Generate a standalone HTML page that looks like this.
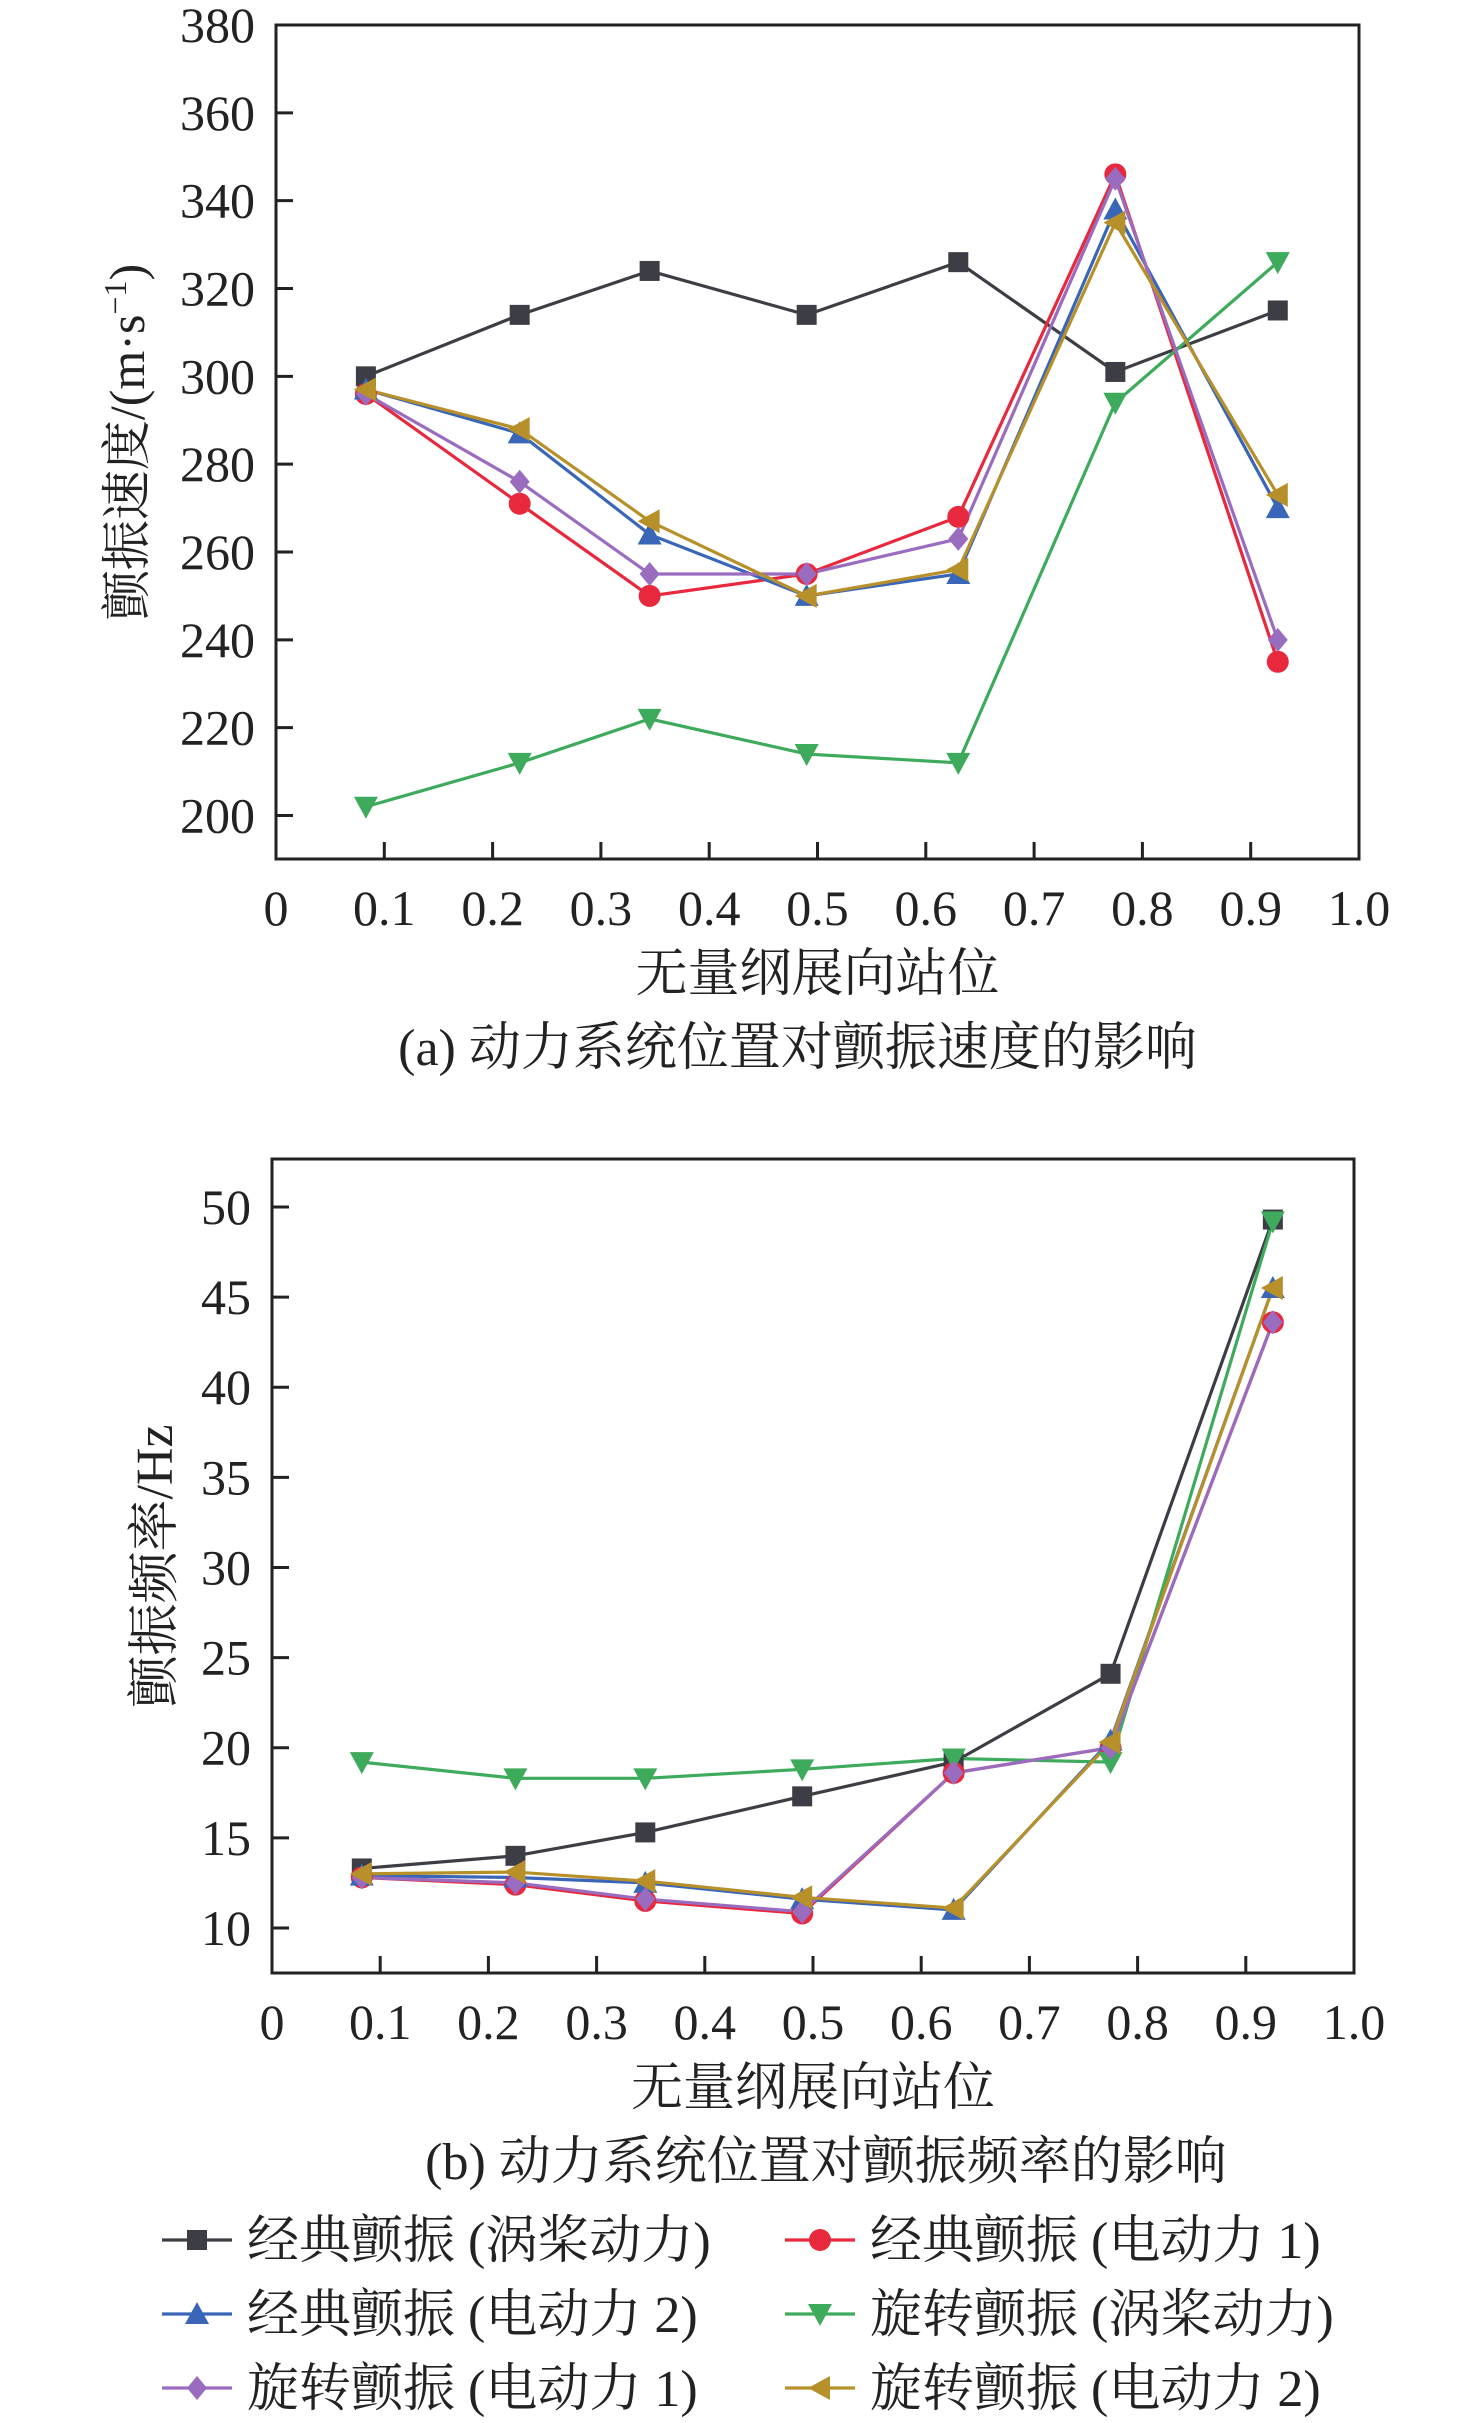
<!DOCTYPE html>
<html><head><meta charset="utf-8">
<style>
html,body{margin:0;padding:0;background:#fff;}
svg{display:block;}
text{font-family:"Liberation Serif","Noto Serif CJK SC","Noto Sans CJK SC",serif;fill:#222;}
</style></head>
<body>
<svg id="chart" width="1476" height="2423" viewBox="0 0 1476 2423" xmlns="http://www.w3.org/2000/svg"></svg>
<script>
const xStations = [0.083, 0.225, 0.345, 0.49, 0.63, 0.775, 0.925];
const seriesNames = ["经典颤振 (涡桨动力)","经典颤振 (电动力 1)","经典颤振 (电动力 2)","旋转颤振 (涡桨动力)","旋转颤振 (电动力 1)","旋转颤振 (电动力 2)"];
const speedClassicTurbo = [300,314,324,314,326,301,315];
const speedClassicE1 = [296,271,250,255,268,346,235];
const speedClassicE2 = [297,287,264,250,255,338,270];
const speedRotTurbo = [202,212,222,214,212,294,326];
const speedRotE1 = [296,276,255,255,263,345,240];
const speedRotE2 = [297,288,267,250,256,335,273];
const freqClassicTurbo = [13.3,14.0,15.3,17.3,19.2,24.1,49.3];
const freqClassicE1 = [12.8,12.4,11.5,10.8,18.6,20.0,43.6];
const freqClassicE2 = [12.9,12.8,12.5,11.6,11.0,20.4,45.5];
const freqRotTurbo = [19.2,18.3,18.3,18.8,19.4,19.2,49.2];
const freqRotE1 = [12.8,12.5,11.6,10.9,18.6,20.0,43.6];
const freqRotE2 = [13.0,13.1,12.6,11.7,11.1,20.3,45.5];
const xTicks = ["0","0.1","0.2","0.3","0.4","0.5","0.6","0.7","0.8","0.9","1.0"];
const speedTicks = [200,220,240,260,280,300,320,340,360,380];
const freqTicks = [10,15,20,25,30,35,40,45,50];

const colors = ["#3d3d45","#e8283c","#3a66b8","#3daa5c","#9a6cc0","#b8902a"];
const markers = ["square","circle","tri-up","tri-down","diamond","tri-left"];
const NS = "http://www.w3.org/2000/svg";
const svg = document.getElementById('chart');
function mk(tag, attrs, parent){const e=document.createElementNS(NS,tag);for(const k in attrs)e.setAttribute(k,attrs[k]);(parent||svg).appendChild(e);return e;}

function marker(g, type, x, y, c){
  const s=11;let e;
  if(type==="square") e=mk('rect',{x:x-s+1,y:y-s+1,width:2*s-2,height:2*s-2,fill:c},g);
  else if(type==="circle") e=mk('circle',{cx:x,cy:y,r:s,fill:c},g);
  else { let p;
    if(type==="tri-up") p=[[x,y-s-1],[x+s+1,y+s-1],[x-s-1,y+s-1]];
    else if(type==="tri-down") p=[[x,y+s+1],[x+s+1,y-s+1],[x-s-1,y-s+1]];
    else if(type==="tri-left") p=[[x-s-1,y],[x+s-1,y-s-1],[x+s-1,y+s+1]];
    else p=[[x,y-s-1],[x+s-1,y],[x,y+s+1],[x-s+1,y]];
    e=mk('polygon',{points:p.map(q=>q.join(',')).join(' '),fill:c},g);
  }
  
  
}

function drawChart(cfg){
  const {L,R,T,B,yMin,yMax,ticks,series,yTitle,yTitleX,yTitleSize,caption,capDx,id}=cfg;
  const g=mk('g',{});
  
  
  const sx=v=>L+(R-L)*v;
  const sy=v=>B-(B-T)*(v-yMin)/(yMax-yMin);
  const frame=mk('rect',{x:L,y:T,width:R-L,height:B-T,fill:'none',stroke:'#222','stroke-width':3},g);
  
  
  xTicks.forEach((t,i)=>{
    const x=sx(i/10);
    if(i>0&&i<10) mk('line',{x1:x,y1:B,x2:x,y2:B-17,stroke:'#222','stroke-width':3},g);
    const tx=mk('text',{x:x,y:B+66,'font-size':50,'text-anchor':'middle'},g);
    tx.textContent=t;
    
    
  });
  ticks.forEach(t=>{
    const y=sy(t);
    mk('line',{x1:L,y1:y,x2:L+17,y2:y,stroke:'#222','stroke-width':3},g);
    const tx=mk('text',{x:L-21,y:y+17,'font-size':50,'text-anchor':'end'},g);
    tx.textContent=t;
    
    
  });
  const xt=mk('text',{x:(L+R)/2,y:B+132,'font-size':52,'text-anchor':'middle'},g);
  xt.textContent="无量纲展向站位";
  
  
  const yt=mk('text',{x:0,y:0,'font-size':yTitleSize,'text-anchor':'middle',transform:`translate(${yTitleX},${(T+B)/2}) rotate(-90)`},g);
  yt.innerHTML=yTitle;
  
  
  const cp=mk('text',{x:(L+R)/2+capDx,y:B+206,'font-size':52,'text-anchor':'middle'},g);
  cp.textContent=caption;
  
  
  series.forEach((vals,si)=>{
    const pts=vals.map((v,i)=>sx(xStations[i])+','+sy(v)).join(' ');
    const pl=mk('polyline',{points:pts,fill:'none',stroke:colors[si],'stroke-width':3.2},g);
    
    
  });
  series.forEach((vals,si)=>{
    vals.forEach((v,i)=>marker(g,markers[si],sx(xStations[i]),sy(v),colors[si]));
  });
}

drawChart({id:'speed-chart',L:276,R:1359,T:25,B:859,yMin:190.1,yMax:380,ticks:speedTicks,
  series:[speedClassicTurbo,speedClassicE1,speedClassicE2,speedRotTurbo,speedRotE1,speedRotE2],
  yTitle:'颤振速度/(m·s<tspan baseline-shift="super" font-size="32">−1</tspan>)',yTitleX:144,yTitleSize:50,capDx:-20,
  caption:"(a) 动力系统位置对颤振速度的影响"});
drawChart({id:'frequency-chart',L:272,R:1354,T:1159,B:1973,yMin:7.5,yMax:52.66,ticks:freqTicks,
  series:[freqClassicTurbo,freqClassicE1,freqClassicE2,freqRotTurbo,freqRotE1,freqRotE2],
  yTitle:'颤振频率/Hz',yTitleX:172,yTitleSize:52,capDx:13,
  caption:"(b) 动力系统位置对颤振频率的影响"});

// legend
const lg=mk('g',{});


seriesNames.forEach((n,i)=>{
  const col=i%2,row=Math.floor(i/2);
  const x0=col?785:162, y=2240+row*74;
  const e=mk('g',{},lg);
  
  
  mk('line',{x1:x0,y1:y,x2:x0+70,y2:y,stroke:colors[i],'stroke-width':3.2},e);
  marker(e,markers[i],x0+35,y,colors[i]);
  const t=mk('text',{x:x0+85,y:y+18,'font-size':52},e);
  t.textContent=n;
  
  
});
</script>
</body></html>
